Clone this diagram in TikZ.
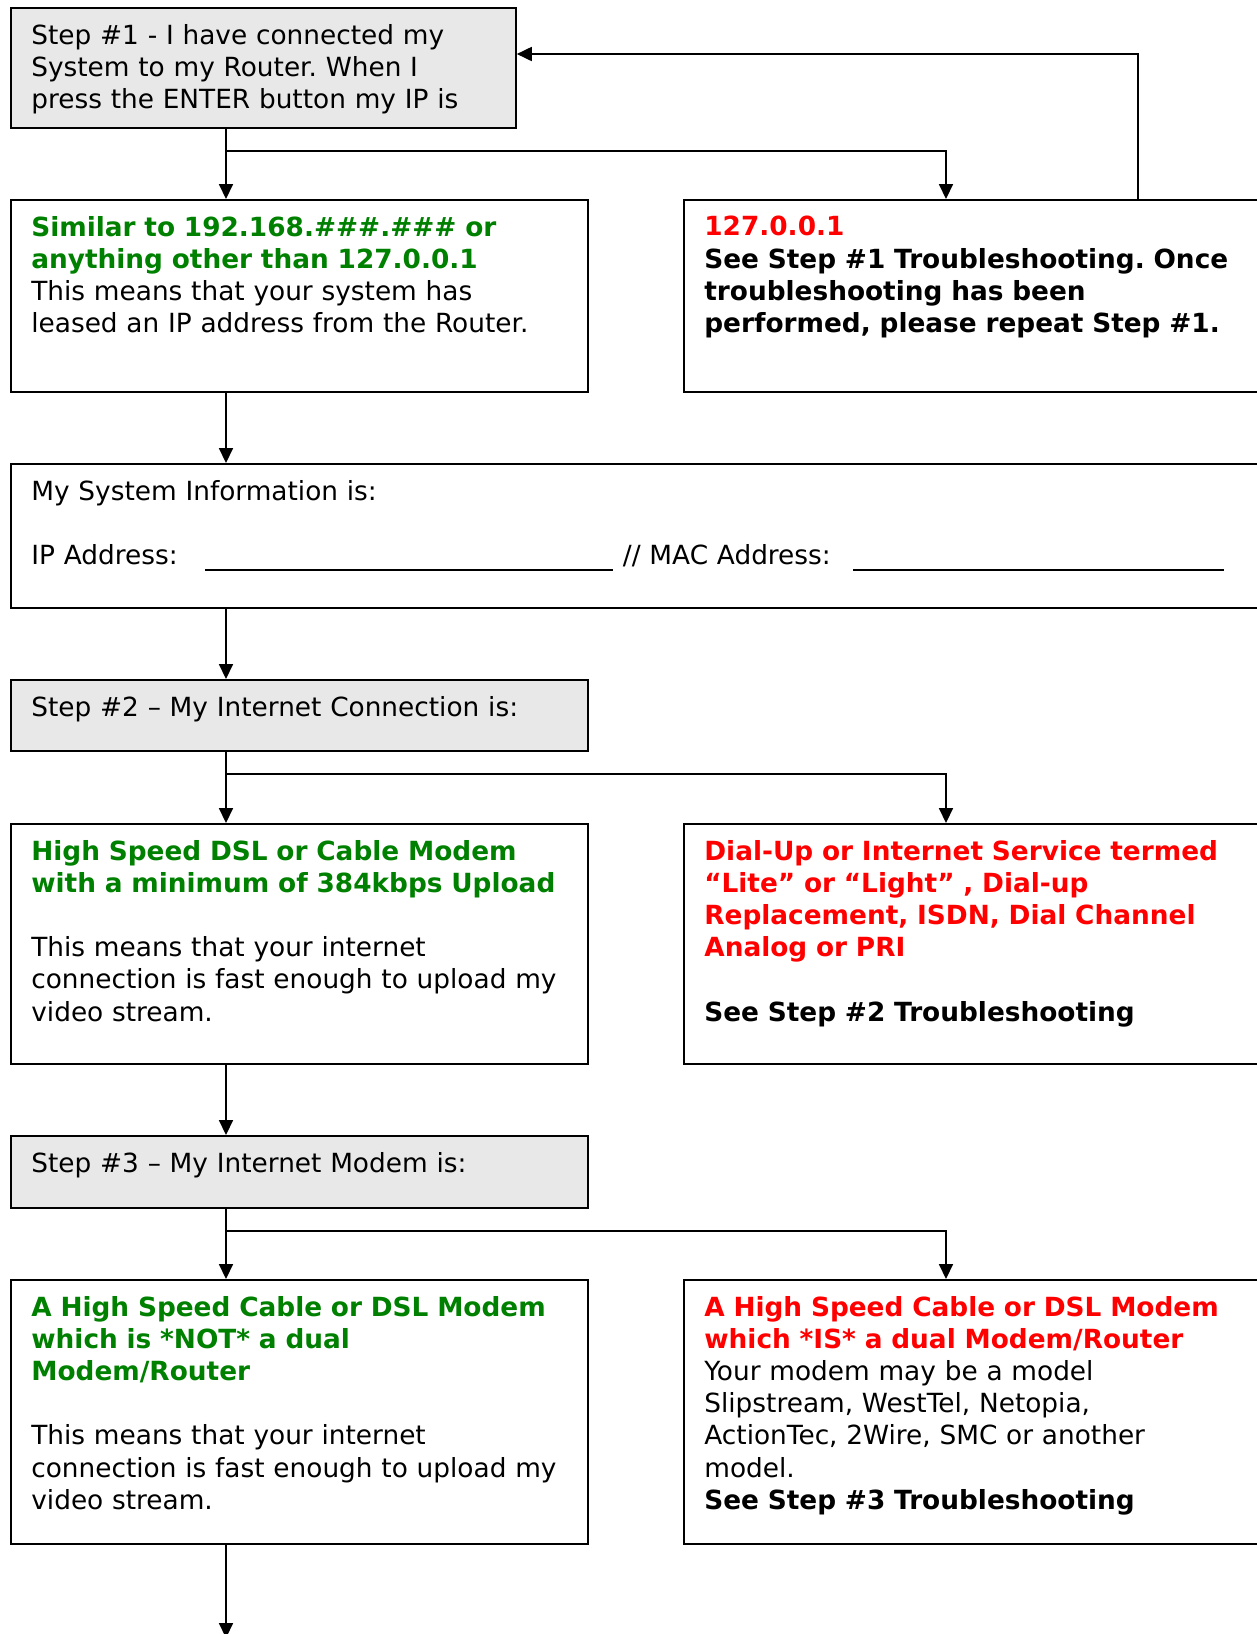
\documentclass[tikz,border=0pt]{standalone}
\usepackage{fontspec}
\setmainfont{DejaVu Sans}
\frenchspacing
\usetikzlibrary{positioning, arrows.meta}
\definecolor{BoxGray}{RGB}{232, 232, 232}
\definecolor{OkGreen}{RGB}{0, 128, 0}
\definecolor{BadRed}{RGB}{255, 0, 0}

\tikzset{
  box/.style={draw, line width=1.1pt, anchor=north west, inner sep=0pt},
  stepbox/.style={box, fill=BoxGray},
  txt/.style={anchor=north west, inner sep=0pt, align=left, text width=11.8cm,
    font=\fontsize{15}{18.3}\selectfont},
  flow/.style={line width=0.85pt, -{Triangle[length=8.5pt, width=8pt]}},
}

\begin{document}
\begin{tikzpicture}[x=0.02cm, y=-0.02cm]
    \useasboundingbox (0,0) rectangle (1257,1634);

    % Step 1 and its two answers
    \node[stepbox, minimum width=10.1cm, minimum height=2.4cm] (s1) at (10,7) {};
    \node[txt, below right=0.34cm and 0.42cm of s1.north west] (s1t)
      {Step \#1 - I have connected my\\System to my Router. When I\\press the ENTER button my IP is};

    \node[box, minimum width=11.54cm, minimum height=3.84cm] (lan) at (10,199) {};
    \node[txt, below right=0.34cm and 0.42cm of lan.north west] (lant)
      {{\color{OkGreen}\bfseries Similar to 192.168.\#\#\#.\#\#\# or\\anything other than 127.0.0.1}\\
       This means that your system has\\leased an IP address from the Router.};

    \node[box, minimum width=12.4cm, minimum height=3.84cm] (loop) at (683,199) {};
    \node[txt, below right=0.34cm and 0.42cm of loop.north west] (loopt)
      {{\color{BadRed}\bfseries 127.0.0.1}\\
       {\bfseries See Step \#1 Troubleshooting. Once\\troubleshooting has been\\performed, please repeat Step \#1.}};

    % System information
    \node[box, minimum width=25.8cm, minimum height=2.88cm] (info) at (10,463) {};
    \node[txt, text width=24cm, below right=0.34cm and 0.42cm of info.north west] (infot)
      {My System Information is:\\[18.3pt]
       \makebox[99pt][l]{IP Address:}\rule[-3.5pt]{232pt}{0.85pt}\hspace{5.7pt}%
       \makebox[131pt][l]{// MAC Address:}\rule[-3.5pt]{211pt}{0.85pt}};

    % Step 2 and its two answers
    \node[stepbox, minimum width=11.54cm, minimum height=1.42cm] (s2) at (10,679) {};
    \node[txt, below right=0.34cm and 0.42cm of s2.north west] (s2t)
      {Step \#2 – My Internet Connection is:};

    \node[box, minimum width=11.54cm, minimum height=4.8cm] (fast) at (10,823) {};
    \node[txt, below right=0.34cm and 0.42cm of fast.north west] (fastt)
      {{\color{OkGreen}\bfseries High Speed DSL or Cable Modem\\with a minimum of 384kbps Upload}\\[18.3pt]
       This means that your internet\\connection is fast enough to upload my\\video stream.};

    \node[box, minimum width=12.4cm, minimum height=4.8cm] (slow) at (683,823) {};
    \node[txt, below right=0.34cm and 0.42cm of slow.north west] (slowt)
      {{\color{BadRed}\bfseries Dial-Up or Internet Service termed\\“Lite” or “Light” , Dial-up\\Replacement, ISDN, Dial Channel\\Analog or PRI}\\[18.3pt]
       {\bfseries See Step \#2 Troubleshooting}};

    % Step 3 and its two answers
    \node[stepbox, minimum width=11.54cm, minimum height=1.44cm] (s3) at (10,1135) {};
    \node[txt, below right=0.34cm and 0.42cm of s3.north west] (s3t)
      {Step \#3 – My Internet Modem is:};

    \node[box, minimum width=11.54cm, minimum height=5.28cm] (plain) at (10,1279) {};
    \node[txt, below right=0.34cm and 0.42cm of plain.north west] (plaint)
      {{\color{OkGreen}\bfseries A High Speed Cable or DSL Modem\\which is *NOT* a dual\\Modem/Router}\\[18.3pt]
       This means that your internet\\connection is fast enough to upload my\\video stream.};

    \node[box, minimum width=12.4cm, minimum height=5.28cm] (dual) at (683,1279) {};
    \node[txt, below right=0.34cm and 0.42cm of dual.north west] (dualt)
      {{\color{BadRed}\bfseries A High Speed Cable or DSL Modem\\which *IS* a dual Modem/Router}\\
       Your modem may be a model\\Slipstream, WestTel, Netopia,\\ActionTec, 2Wire, SMC or another\\model.\\
       {\bfseries See Step \#3 Troubleshooting}};

    % Connectors
    \coordinate (trunk) at (226,0);
    \coordinate (fork) at (946,0);
    \coordinate (back) at (1138,54);
    \coordinate (b1) at (226,151);
    \coordinate (b2) at (226,774);
    \coordinate (b3) at (226,1231);
    \coordinate (next) at (226,1638);

    \draw[flow] (s1.south -| trunk) -- (lan.north -| trunk);
    \draw[flow] (b1) -| (loop.north -| fork);
    \draw[flow] (loop.north -| back) |- (s1.east |- back);
    \draw[flow] (lan.south -| trunk) -- (info.north -| trunk);
    \draw[flow] (info.south -| trunk) -- (s2.north -| trunk);
    \draw[flow] (s2.south -| trunk) -- (fast.north -| trunk);
    \draw[flow] (b2) -| (slow.north -| fork);
    \draw[flow] (fast.south -| trunk) -- (s3.north -| trunk);
    \draw[flow] (s3.south -| trunk) -- (plain.north -| trunk);
    \draw[flow] (b3) -| (dual.north -| fork);
    \draw[flow] (plain.south -| trunk) -- (next);
\end{tikzpicture}
\end{document}
